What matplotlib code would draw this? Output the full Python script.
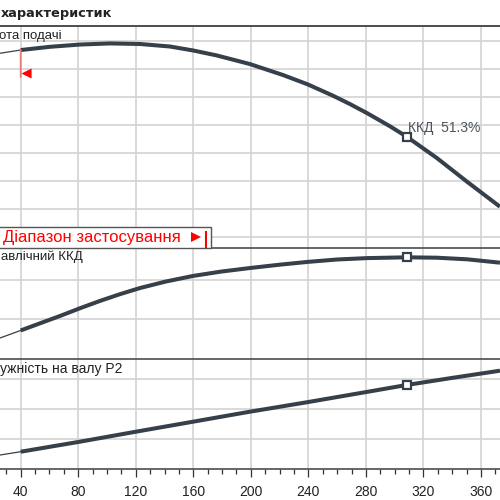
import matplotlib
matplotlib.use("Agg")
import matplotlib.pyplot as plt
from matplotlib.lines import Line2D
from matplotlib.patches import Rectangle
from matplotlib.transforms import ScaledTranslation

# ---------------- data ----------------
Q_head = [25.6, 40.0, 60.4, 81.2, 102.1, 122.9, 143.8, 159.8, 176.5, 199.4,
          222.4, 239.7, 257.1, 269.0, 280.8, 296.8, 308.4, 329.4, 350.3, 373.2]
H_head = [17.10, 17.33, 17.56, 17.72, 17.80, 17.76, 17.58, 17.30, 16.94, 16.33,
          15.55, 14.88, 14.08, 13.48, 12.84, 11.90, 11.16, 9.64, 7.96, 6.18]

Q_eff = [25.6, 40.0, 53.4, 67.3, 81.2, 95.1, 109.0, 122.9, 141.0, 159.8,
         179.3, 199.4, 220.3, 239.7, 259.9, 280.8, 308.4, 329.4, 350.3, 373.2]
eta = [10.6, 14.4, 18.0, 21.7, 25.6, 29.3, 32.7, 35.8, 39.1, 41.9,
       44.1, 45.9, 47.6, 49.0, 50.2, 50.9, 51.3, 51.1, 50.3, 48.6]

Q_pow = [25.6, 40.0, 81.2, 120.2, 159.8, 199.4, 239.7, 280.8, 308.4, 338.3, 373.2]
P2 = [0.238, 0.293, 0.460, 0.627, 0.793, 0.960, 1.120, 1.290, 1.405, 1.517, 1.643]

Q_duty = 308.4
H_duty = 11.16
eta_duty = 51.3
P_duty = 1.405
range_start = 40.0

x_major = [40, 80, 120, 160, 200, 240, 280, 320, 360]
x_minor = list(range(30, 380, 10))
head_grid = [4, 6, 8, 10, 12, 14, 16, 18]
eff_grid = [20, 40]
pow_grid = [0.5, 1.0, 1.5]

# visible parts of the (cropped) captions in the reference
title_text = "характеристик"
head_label = "ота подачі"
eff_label = "авлічний ККД"
pow_label = "ужність на валу P2"
range_label = "Діапазон застосування"

# ---------------- style ----------------
CURVE = "#36404a"
GRID = "#d3d3d3"
SEP = "#4d4d4d"
RED = "#ff0000"
FONT = ["Liberation Sans", "DejaVu Sans"]

plt.rcParams["font.family"] = FONT

fig = plt.figure(figsize=(5, 5), dpi=100)
PX = 500.0


def fx(x):
    return x / PX


def fy(y):
    return 1 - y / PX


def add_panel(top, bottom):
    return fig.add_axes([0, fy(bottom), 1, (bottom - top) / PX])


ax1 = add_panel(26, 248)
ax2 = add_panel(248, 359)
ax3 = add_panel(359, 469.3)

xlim = (25.61, 373.24)
for ax, ylim, yg in ((ax1, (3.24, 19.04), head_grid),
                     (ax2, (0, 56.0), eff_grid),
                     (ax3, (0, 1.838), pow_grid)):
    ax.set_xlim(*xlim)
    ax.set_ylim(*ylim)
    ax.set_xticks(x_major)
    ax.set_yticks(yg)
    ax.grid(True, color=GRID, lw=1.2, zorder=0)
    ax.set_axisbelow(True)
    ax.tick_params(axis="y", length=0, labelleft=False)
    for s in ("left", "right"):
        ax.spines[s].set_visible(False)
    ax.spines["top"].set_color(SEP)
    ax.spines["top"].set_linewidth(1.2)
    ax.patch.set_alpha(0)

for ax in (ax1, ax2):
    ax.spines["bottom"].set_visible(False)
    ax.tick_params(axis="x", length=0, labelbottom=False)

ax3.spines["bottom"].set_color(SEP)
ax3.spines["bottom"].set_linewidth(1.2)
ax3.set_xticks(x_minor, minor=True)
ax3.tick_params(axis="x", which="major", length=5.5, width=0.9, color="#333333",
                labelsize=10, pad=6, labelcolor="#222222")
ax3.tick_params(axis="x", which="minor", length=3.5, width=0.9, color="#333333")


def draw_curve(ax, q, v):
    ax.plot(q[:2], v[:2], color=CURVE, lw=0.9, zorder=3)
    ax.plot(q[1:], v[1:], color=CURVE, lw=2.9, solid_capstyle="butt",
            solid_joinstyle="round", zorder=3)


draw_curve(ax1, Q_head, H_head)
draw_curve(ax2, Q_eff, eta)
draw_curve(ax3, Q_pow, P2)

for ax, v in ((ax1, H_duty), (ax2, eta_duty), (ax3, P_duty)):
    ax.plot([Q_duty], [v], marker="s", ms=6, mfc="white", mec=CURVE,
            mew=1.6, zorder=4, clip_on=False)

ax1.annotate(f"ККД  {eta_duty}%", xy=(Q_duty, H_duty), xytext=(0.8, 6.6),
             textcoords="offset points", ha="left", va="center",
             fontsize=10, color="#4b545d")

# start of application range marker (top panel)
H_start = H_head[Q_head.index(range_start)]
ax1.annotate("", xy=(range_start, H_start), xytext=(0, -19.5),
             textcoords="offset points",
             arrowprops=dict(arrowstyle="-", color="#f07878", lw=1.3,
                             shrinkA=0, shrinkB=0))
tri = [(0, 0), (1, 0.5), (1, -0.5)]
ax1.plot([range_start], [H_start], marker=tri, ms=14.5, color=RED, mec=RED,
         mew=0, zorder=5, clip_on=False,
         transform=ax1.transData + ScaledTranslation(0, -22.5 / 100,
                                                     fig.dpi_scale_trans))

# ---------------- texts ----------------
fig.text(fx(1), fy(17.5), title_text, ha="left", va="baseline",
         fontsize=9.3, fontweight="bold", family="DejaVu Sans", color="#222222")
fig.add_artist(Line2D([0, 1], [fy(26), fy(26)], color=SEP, lw=1.2,
                      transform=fig.transFigure))

fig.text(fx(62), fy(39.5), head_label, ha="right", va="baseline",
         fontsize=9.5, color="#222222")
fig.text(fx(82.7), fy(260), eff_label, ha="right", va="baseline",
         fontsize=9.5, color="#222222")
fig.text(fx(123), fy(373.3), pow_label, ha="right", va="baseline",
         fontsize=10, color="#222222")

# application range legend box
fig.add_artist(Rectangle((fx(-5), fy(248)), (211 + 5) / PX, 21 / PX,
                         transform=fig.transFigure, facecolor="white",
                         edgecolor="#555555", lw=1.0, zorder=6))
fig.text(fx(3), fy(241.7), range_label, ha="left", va="baseline",
         fontsize=12, color=RED, zorder=7)
fig.add_artist(Line2D([fx(196)], [fy(237)], marker=">", ms=7.3, color=RED,
                      mew=0, transform=fig.transFigure, zorder=7))
fig.add_artist(Line2D([fx(205.7), fx(205.7)], [fy(231.7), fy(246.7)],
                      color=RED, lw=1.5, transform=fig.transFigure, zorder=7))

fig.savefig("out.png", dpi=100)
